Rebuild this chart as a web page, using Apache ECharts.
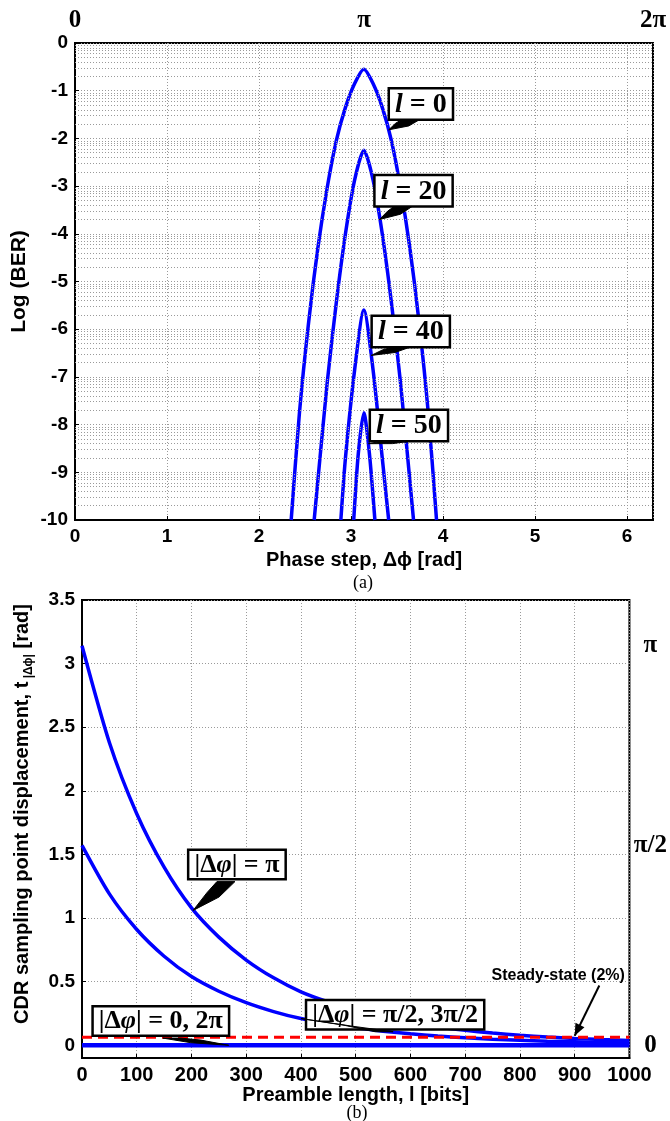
<!DOCTYPE html>
<html><head><meta charset="utf-8">
<script src="https://cdn.jsdelivr.net/npm/echarts@6/dist/echarts.min.js"></script>
<style>html,body{margin:0;padding:0;background:#fff}#c{width:670px;height:1121px}</style>
</head><body><div id="c"></div>
<script>
// ---------- data: panel (a) ----------
const phaseTicks = [0, 1, 2, 3, 4, 5, 6];
const logBerTicks = [0, -1, -2, -3, -4, -5, -6, -7, -8, -9, -10];
const topPiLabels = ['0', 'π', '2π'];
const topPiValues = [0, Math.PI, 2 * Math.PI];

const l0X  = [2.35, 2.44, 2.54, 2.64, 2.74, 2.84, 2.94, 3.04, 3.14, 3.24, 3.34, 3.44, 3.54, 3.64, 3.74, 3.84, 3.93];
const l0Y  = [-10, -7.75, -5.85, -4.3, -3.05, -2.05, -1.35, -0.85, -0.55, -0.85, -1.35, -2.05, -3.05, -4.3, -5.85, -7.75, -10];
const l20X = [2.60, 2.74, 2.84, 2.94, 3.04, 3.14, 3.24, 3.34, 3.44, 3.54, 3.68];
const l20Y = [-10, -7.15, -5.45, -4.0, -2.87, -2.25, -2.87, -4.0, -5.45, -7.15, -10];
const l40X = [2.89, 2.94, 3.04, 3.14, 3.24, 3.34, 3.41];
const l40Y = [-10, -8.7, -6.85, -5.6, -6.85, -8.7, -10];
const l50X = [3.03, 3.08, 3.14, 3.20, 3.26];
const l50Y = [-10, -8.6, -7.75, -8.6, -10];

// ---------- data: panel (b) ----------
const preambleTicks = [0, 100, 200, 300, 400, 500, 600, 700, 800, 900, 1000];
const cdrTicks = [0, 0.5, 1, 1.5, 2, 2.5, 3, 3.5];
const rightPiLabels = ['0', 'π/2', 'π'];
const rightPiValues = [0, Math.PI / 2, Math.PI];

const preambleX = [0, 50, 100, 150, 200, 250, 300, 350, 400, 450, 500, 550, 600, 650, 700, 750, 800, 850, 900, 950, 1000];
const tPi     = [3.14, 2.38, 1.82, 1.40, 1.08, 0.85, 0.67, 0.53, 0.42, 0.34, 0.275, 0.222, 0.18, 0.146, 0.118, 0.096, 0.079, 0.065, 0.054, 0.045, 0.037];
const tHalfPi = [1.571, 1.19, 0.91, 0.70, 0.54, 0.425, 0.335, 0.265, 0.21, 0.17, 0.137, 0.111, 0.09, 0.073, 0.059, 0.048, 0.039, 0.032, 0.027, 0.022, 0.018];
const tZero   = [0, 0, 0, 0, 0, 0, 0, 0, 0, 0, 0, 0, 0, 0, 0, 0, 0, 0, 0, 0, 0];
const steadyX = [0, 1000];
const steadyY = [0.0628, 0.0628];

// ---------- helpers ----------
const zip = (xs, ys) => xs.map((x, i) => [x, ys[i]]);
const SANS = 'Liberation Sans';
const SERIF = 'Liberation Serif';
const tickFont = { fontFamily: SANS, fontWeight: 'bold', fontSize: 19, color: '#000' };
const titleFont = { fontFamily: SANS, fontWeight: 'bold', fontSize: 20, color: '#000' };
const gridDot = { color: '#9a9a9a', type: [1, 2], width: 1 };
const BLUE = '#0000ff';

// log-style minor grid positions (decoration only)
const minorGrid = [];
for (let n = 1; n <= 10; n++) for (let k = 2; k <= 9; k++) minorGrid.push(-n + Math.log10(k));

const chart = echarts.init(document.getElementById('c'), null, { renderer: 'canvas' });

const blueLine = (name, data, xi, yi, w) => ({
  name, type: 'line', xAxisIndex: xi, yAxisIndex: yi, data, showSymbol: false, smooth: 0.25,
  lineStyle: { color: BLUE, width: w || 3.5 }, itemStyle: { color: BLUE }, z: 3, silent: true
});

const piFormatter = (vals, labels) => v => {
  let b = 0;
  vals.forEach((p, i) => { if (Math.abs(p - v) < Math.abs(vals[b] - v)) b = i; });
  return labels[b];
};

const option = {
  animation: false,
  backgroundColor: '#fff',
  grid: [
    { left: 75, top: 43, width: 578, height: 477, show: true, borderColor: '#000', borderWidth: 2, backgroundColor: 'transparent' },
    { left: 82, top: 600, width: 548, height: 458, show: true, borderColor: '#000', borderWidth: 2, backgroundColor: 'transparent' }
  ],
  xAxis: [
    {
      gridIndex: 0, type: 'value', min: 0, max: 2 * Math.PI, interval: 1, position: 'bottom',
      axisLine: { show: true, onZero: false, lineStyle: { color: '#000', width: 2 } },
      axisTick: { show: true, inside: true, length: 4, lineStyle: { color: '#000' } },
      axisLabel: Object.assign({ margin: 7, showMaxLabel: false, formatter: v => (phaseTicks.indexOf(v) >= 0 ? String(v) : '') }, tickFont),
      splitLine: { show: true, lineStyle: gridDot },
      name: 'Phase step, Δϕ [rad]', nameLocation: 'middle', nameGap: 30,
      nameTextStyle: titleFont
    },
    {
      gridIndex: 0, type: 'value', min: 0, max: 2 * Math.PI, position: 'top',
      axisLine: { show: false }, axisTick: { show: false }, splitLine: { show: false },
      axisLabel: {
        customValues: topPiValues, margin: 10,
        fontFamily: SERIF, fontWeight: 'bold', fontSize: 25, color: '#000',
        formatter: piFormatter(topPiValues, topPiLabels)
      }
    },
    {
      gridIndex: 1, type: 'value', min: 0, max: 1000, interval: 100, position: 'bottom',
      axisLine: { show: true, onZero: false, lineStyle: { color: '#000', width: 2 } },
      axisTick: { show: true, inside: true, length: 4, lineStyle: { color: '#000' } },
      axisLabel: Object.assign({ margin: 7, formatter: v => (preambleTicks.indexOf(v) >= 0 ? String(v) : '') }, tickFont, { fontSize: 20 }),
      splitLine: { show: true, lineStyle: gridDot },
      name: 'Preamble length, l [bits]', nameLocation: 'middle', nameGap: 25,
      nameTextStyle: titleFont
    }
  ],
  yAxis: [
    {
      gridIndex: 0, type: 'value', min: -10, max: 0, interval: 1,
      axisLine: { show: true, onZero: false, lineStyle: { color: '#000', width: 2 } },
      axisTick: { show: true, inside: true, length: 4, lineStyle: { color: '#000' } },
      axisLabel: Object.assign({ margin: 7, formatter: v => (logBerTicks.indexOf(v) >= 0 ? String(v) : '') }, tickFont),
      splitLine: { show: true, lineStyle: gridDot },
      name: 'Log (BER)', nameLocation: 'middle', nameGap: 42, nameRotate: 90,
      nameTextStyle: Object.assign({}, titleFont, { fontSize: 21 })
    },
    {
      gridIndex: 1, type: 'value', min: -0.1, max: 3.5,
      axisLine: { show: true, onZero: false, lineStyle: { color: '#000', width: 2 } },
      axisTick: { show: true, inside: true, length: 4, customValues: cdrTicks, lineStyle: { color: '#000' } },
      axisLabel: Object.assign({ margin: 7, customValues: cdrTicks, formatter: v => String(v) }, tickFont),
      splitLine: { show: true, lineStyle: gridDot },
      name: '{a|CDR sampling point displacement, t}{s| |Δϕ|}{a| [rad]}', nameLocation: 'middle', nameGap: 50, nameRotate: 90,
      nameTextStyle: {
        padding: [0, 0, 0, 30],
        rich: {
          a: { fontFamily: SANS, fontWeight: 'bold', fontSize: 20, color: '#000', verticalAlign: 'bottom' },
          s: { fontFamily: SANS, fontWeight: 'bold', fontSize: 12, color: '#000', verticalAlign: 'bottom', padding: [0, 0, -3, 0] }
        }
      }
    },
    {
      gridIndex: 1, type: 'value', min: -0.1, max: 3.5, position: 'right',
      axisLine: { show: false }, axisTick: { show: false }, splitLine: { show: false },
      axisLabel: {
        customValues: rightPiValues, margin: 21, align: 'center',
        fontFamily: SERIF, fontWeight: 'bold', fontSize: 25, color: '#000',
        formatter: piFormatter(rightPiValues, rightPiLabels)
      }
    }
  ],
  series: [
    {
      name: 'minorGrid', type: 'line', xAxisIndex: 0, yAxisIndex: 0, data: [], silent: true, z: 1,
      markLine: {
        silent: true, symbol: 'none', animation: false, label: { show: false },
        lineStyle: { color: '#9a9a9a', type: [1, 2], width: 1 },
        data: minorGrid.map(v => ({ yAxis: v }))
      }
    },
    blueLine('l = 0', zip(l0X, l0Y), 0, 0),
    blueLine('l = 20', zip(l20X, l20Y), 0, 0),
    blueLine('l = 40', zip(l40X, l40Y), 0, 0),
    blueLine('l = 50', zip(l50X, l50Y), 0, 0),
    blueLine('|Δφ| = π', zip(preambleX, tPi), 2, 1),
    blueLine('|Δφ| = π/2, 3π/2', zip(preambleX, tHalfPi), 2, 1),
    blueLine('|Δφ| = 0, 2π', zip(preambleX, tZero), 2, 1, 4.5),
    {
      name: 'Steady-state (2%)', type: 'line', xAxisIndex: 2, yAxisIndex: 1, data: zip(steadyX, steadyY),
      showSymbol: false, silent: true, z: 4,
      lineStyle: { color: '#ff0000', width: 3, type: [10, 6] }
    }
  ]
};
chart.setOption(option);

// ---------- annotations ----------
const topAnn = [
  { text: '{i|l}{t| = 0}',  box: [3.76, -1.28], tip: [3.41, -1.82] },
  { text: '{i|l}{t| = 20}', box: [3.68, -3.10], tip: [3.31, -3.70] },
  { text: '{i|l}{t| = 40}', box: [3.65, -6.05], tip: [3.22, -6.55] },
  { text: '{i|l}{t| = 50}', box: [3.63, -8.02], tip: [3.19, -8.40] }
];
const botAnn = [
  { text: '{t||Δ}{i|φ}{t|| = }{b|π}', box: [283, 1.42], tip: [203, 1.06] },
  { text: '{t||Δ}{i|φ}{t|| = }{b|π}{t|/2, 3}{b|π}{t|/2}', box: [572, 0.24], tip: [400, 0.21] },
  { text: '{t||Δ}{i|φ}{t|| = 0, 2}{b|π}', box: [144, 0.19], tip: [268, 0.0] }
];
const richBox = {
  i: { fontFamily: SERIF, fontStyle: 'italic', fontWeight: 'bold', fontSize: 28, fill: '#000' },
  t: { fontFamily: SERIF, fontWeight: 'bold', fontSize: 28, fill: '#000' },
  b: { fontFamily: SERIF, fontWeight: 'bold', fontSize: 28, fill: '#000' }
};
const richBox2 = {
  i: { fontFamily: SERIF, fontStyle: 'italic', fontWeight: 'bold', fontSize: 26, fill: '#000' },
  t: { fontFamily: SERIF, fontWeight: 'bold', fontSize: 26, fill: '#000' },
  b: { fontFamily: SERIF, fontWeight: 'bold', fontSize: 26, fill: '#000' }
};

const graphics = [];
function addCallout(a, finder, rich, boxH) {
  const c = chart.convertToPixel(finder, a.box);
  const t = chart.convertToPixel(finder, a.tip);
  graphics.push({
    type: 'text', x: c[0], y: c[1], z: 20,
    style: {
      text: a.text, rich, align: 'center', verticalAlign: 'middle',
      backgroundColor: '#fff', borderColor: '#000', borderWidth: 2.5, padding: [1, 5, 0, 5]
    }
  });
  const bottom = c[1] + boxH / 2 - 1;
  const dir = t[0] < c[0] ? -1 : 1;
  const A = [c[0] + dir * 2, bottom];
  const B = [c[0] + dir * 20, bottom];
  const lerp = (p, q, s) => [p[0] + (q[0] - p[0]) * s, p[1] + (q[1] - p[1]) * s];
  const n1 = lerp(B, t, 0.42), n2 = lerp(A, t, 0.5);
  graphics.push({
    type: 'polygon', z: 21,
    shape: { points: [A, B, [n1[0], n1[1] - 1], t, [n2[0] - dir * 5, n2[1] + 1]] },
    style: { fill: '#000', stroke: '#000', lineWidth: 1 }
  });
}
topAnn.forEach(a => addCallout(a, { xAxisIndex: 0, yAxisIndex: 0 }, richBox, 34));
botAnn.forEach(a => addCallout(a, { xAxisIndex: 2, yAxisIndex: 1 }, richBox2, 36));

// steady-state note + arrow
const stTxt = chart.convertToPixel({ xAxisIndex: 2, yAxisIndex: 1 }, [748, 0.55]);
const stA = chart.convertToPixel({ xAxisIndex: 2, yAxisIndex: 1 }, [945, 0.47]);
const stB = chart.convertToPixel({ xAxisIndex: 2, yAxisIndex: 1 }, [900, 0.075]);
graphics.push({
  type: 'text', x: stTxt[0], y: stTxt[1], z: 20,
  style: { text: 'Steady-state (2%)', fontFamily: SANS, fontWeight: 'bold', fontSize: 16, fill: '#000', align: 'left', verticalAlign: 'middle' }
});
graphics.push({ type: 'line', z: 20, shape: { x1: stA[0], y1: stA[1], x2: stB[0], y2: stB[1] }, style: { stroke: '#000', lineWidth: 2 } });
(function () {
  const dx = stB[0] - stA[0], dy = stB[1] - stA[1], L = Math.hypot(dx, dy);
  const ux = dx / L, uy = dy / L, px = -uy, py = ux, s = 12, w = 5;
  graphics.push({
    type: 'polygon', z: 21,
    shape: { points: [[stB[0], stB[1]], [stB[0] - ux * s + px * w, stB[1] - uy * s + py * w], [stB[0] - ux * s - px * w, stB[1] - uy * s - py * w]] },
    style: { fill: '#000' }
  });
})();

graphics.push({ type: 'text', x: 363, y: 583, style: { text: '(a)', fontFamily: SERIF, fontSize: 18, fill: '#000', align: 'center', verticalAlign: 'middle' } });
graphics.push({ type: 'text', x: 357, y: 1113, style: { text: '(b)', fontFamily: SERIF, fontSize: 18, fill: '#000', align: 'center', verticalAlign: 'middle' } });

chart.setOption({ graphic: graphics });
</script>
</body></html>
